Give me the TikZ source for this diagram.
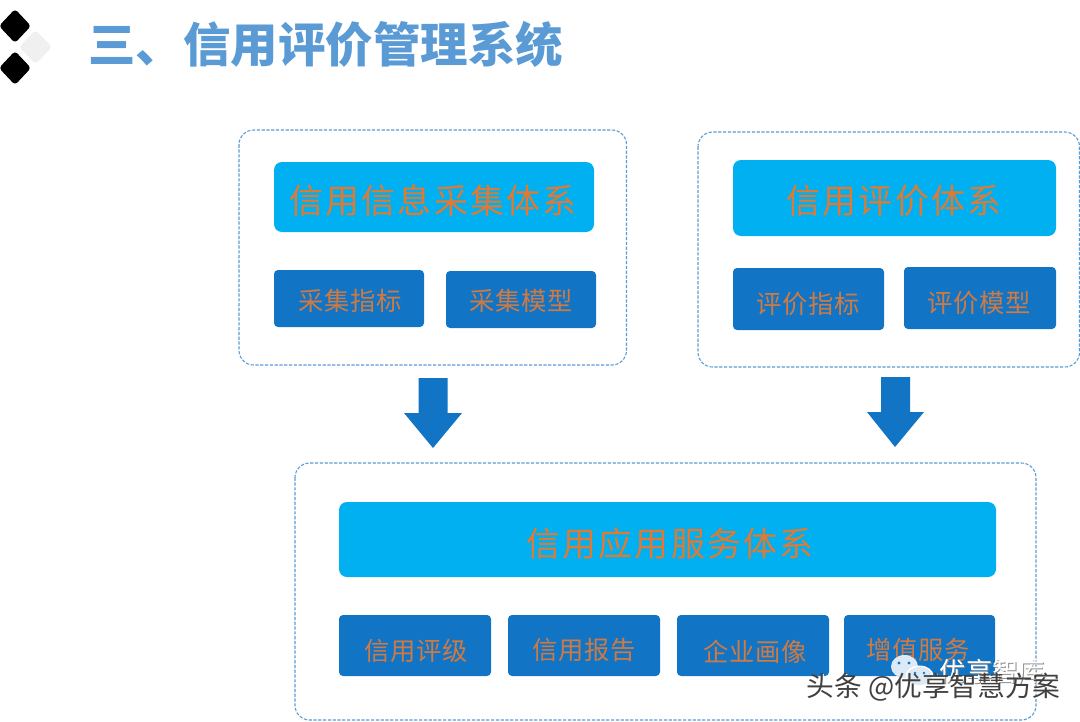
\documentclass[tikz,border=0pt]{standalone}
\usepackage{fontspec}
\newfontfamily\cjk{Noto Sans CJK SC}
\newfontfamily\cjkbig[LetterSpace=6]{Noto Sans CJK SC}
\newfontfamily\cjksmall[LetterSpace=3]{Noto Sans CJK SC}
\definecolor{titleblue}{HTML}{5B9BD5}
\definecolor{bright}{HTML}{00B0F0}
\definecolor{deep}{HTML}{1274C4}
\definecolor{lab}{HTML}{DF7A35}
\definecolor{labdim}{HTML}{CF7A42}
\definecolor{icon}{HTML}{DDEAF6}
\tikzset{
  x=0.75pt,y=-0.75pt,
  outerbox/.style={draw=titleblue,line width=0.8pt,dash pattern=on 2.4pt off 1.2pt,rounded corners=11pt},
  bigbox/.style={fill=bright,rounded corners=6pt},
  smallbox/.style={fill=deep,rounded corners=3pt},
  biglabel/.style={text=lab,font=\cjkbig\fontsize{25.5pt}{28pt}\selectfont,inner sep=0pt},
  smalllabel/.style={text=labdim,font=\cjksmall\fontsize{19pt}{22pt}\selectfont,inner sep=0pt},
  blockarrow/.style={fill=deep},
  diamondmark/.style={rounded corners=2.5pt},
  wmtext/.style={inner sep=0pt,font=\cjk\fontsize{20.8pt}{23pt}\selectfont},
  wmhead/.style={inner sep=0pt,font=\cjk\fontsize{19.7pt}{22pt}\selectfont},
}
\begin{document}
\begin{tikzpicture}
\useasboundingbox (0,0) rectangle (1080,721);
\fill[white] (0,0) rectangle (1080,721);
% title marks
\fill[diamondmark,fill=black!6] (35.5,30)--(52,47)--(35.5,64)--(19,47)--cycle;
\fill[diamondmark,fill=black] (15,9)--(31,26)--(15,43)--(-1,26)--cycle;
\fill[diamondmark,fill=black] (15,51)--(31,68)--(15,85)--(-1,68)--cycle;
\node[anchor=west,inner sep=0pt,text=titleblue,font=\cjk\bfseries\fontsize{35.6pt}{38pt}\selectfont] (title) at (88,44) {三、信用评价管理系统};
% outer frames
\draw[outerbox] (239,130) rectangle (626.5,365);
\draw[outerbox] (698,132) rectangle (1079.5,367);
\draw[outerbox] (295,463) rectangle (1036,720);
% large bars
\fill[bigbox] (274,162) rectangle (594,232);
\fill[bigbox] (733,160) rectangle (1056,236);
\fill[bigbox] (339,502) rectangle (996,577);
% small boxes
\fill[smallbox] (274,270) rectangle (424,327);
\fill[smallbox] (446,271) rectangle (596,328);
\fill[smallbox] (733,268) rectangle (884,330);
\fill[smallbox] (904,267) rectangle (1056,329);
\fill[smallbox] (339,615) rectangle (491,676);
\fill[smallbox] (508,615) rectangle (660,676);
\fill[smallbox] (677,615) rectangle (829,676);
\fill[smallbox] (844,615) rectangle (995,676);
% labels
\node[biglabel] (b1) at (433,200) {信用信息采集体系};
\node[biglabel] (b2) at (894,201) {信用评价体系};
\node[biglabel] (b3) at (670,544) {信用应用服务体系};
\node[smalllabel] (s1) at (350,301) {采集指标};
\node[smalllabel] (s2) at (521,301) {采集模型};
\node[smalllabel] (s3) at (808,304) {评价指标};
\node[smalllabel] (s4) at (979,303) {评价模型};
\node[smalllabel] (s5) at (416,651) {信用评级};
\node[smalllabel] (s6) at (584,650) {信用报告};
\node[smalllabel] (s7) at (755,652) {企业画像};
\node[smalllabel] (s8) at (918,650) {增值服务};
% block arrows
\fill[blockarrow] (418.5,378)--(447.5,378)--(447.5,413)--(462,413)--(433,448)--(404,413)--(418.5,413)--cycle;
\fill[blockarrow] (881,377)--(910,377)--(910,412)--(924,412)--(895,447)--(867,412)--(881,412)--cycle;
% watermark
\node[wmtext,text=white] (wms) at (934.5,688) {头条 @优享智慧方案};
\node[wmhead,text=black!45] (wmas) at (993.5,672) {优享智库};
\node[wmhead,text=white] (wma) at (992.5,671) {优享智库};
\fill[icon] (904.5,666.5) ellipse (13.5 and 11.5);
\fill[white] (919.5,676) ellipse (14 and 10.5);
\fill[icon] (919.5,676) ellipse (12.5 and 9);
\fill[deep] (899,663) circle (1.6) (909,663) circle (1.6) (915,673) circle (1.3) (924,673) circle (1.3);
\node[wmtext,text=black!75] (wmb) at (933.5,687) {头条 @优享智慧方案};
\end{tikzpicture}
\end{document}
